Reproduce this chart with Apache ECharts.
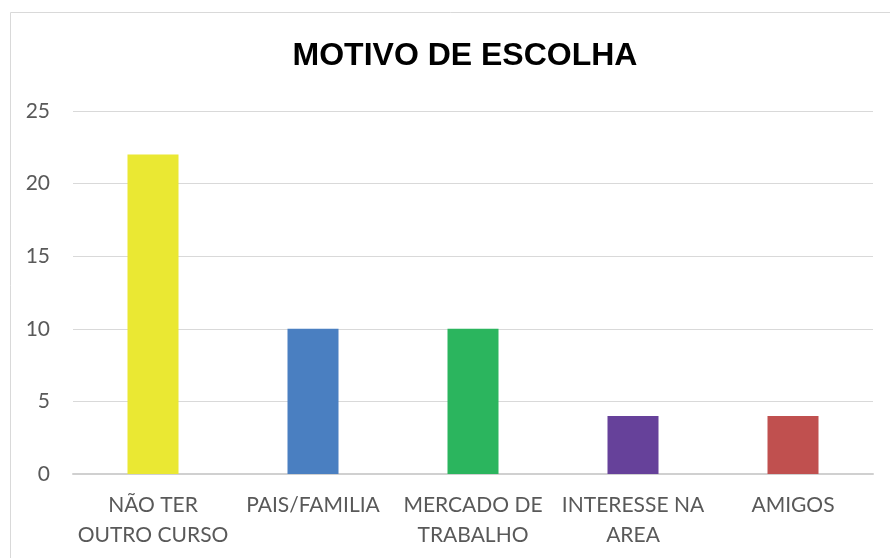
<!DOCTYPE html>
<html>
<head>
<meta charset="utf-8">
<script src="https://cdn.jsdelivr.net/npm/echarts@6/dist/echarts.min.js"></script>
<style>
html,body{margin:0;padding:0;background:#fff;}
#chart{width:890px;height:558px;}
</style>
</head>
<body>
<div id="chart"></div>
<script>
// dados do grafico
var categorias = ['NÃO TER\nOUTRO CURSO', 'PAIS/FAMILIA', 'MERCADO DE\nTRABALHO', 'INTERESSE NA\nAREA', 'AMIGOS'];
var valores = [22, 10, 10, 4, 4];
var cores = ['#EAE833', '#4A7FC1', '#2BB55E', '#66419A', '#C0504F'];
var ticksY = [0, 5, 10, 15, 20, 25];

var chart = echarts.init(document.getElementById('chart'));

var dados = valores.map(function(v, i) {
	return { value: v, itemStyle: { color: cores[i] } };
});

chart.setOption({
	animation: false,
	title: {
		text: 'MOTIVO DE ESCOLHA',
		left: 460,
		top: 35,
		textAlign: 'center',
		textStyle: { fontFamily: 'Liberation Sans', fontWeight: 'bold', fontSize: 32, color: '#000' }
	},
	graphic: [{
		type: 'rect',
		shape: { x: 10.5, y: 12.5, width: 1000, height: 1000 },
		style: { fill: 'none', stroke: '#D9D9D9', lineWidth: 1 }
	}],
	grid: { left: 73, right: 17, top: 111, bottom: 84 },
	xAxis: {
		type: 'category',
		data: categorias,
		axisTick: { show: false },
		axisLine: { lineStyle: { color: '#D0D0D0', width: 2 } },
		axisLabel: {
			color: '#595959',
			fontFamily: 'Lato',
			fontSize: 21,
			lineHeight: 30,
			margin: 16,
			interval: 0
		}
	},
	yAxis: {
		type: 'value',
		min: 0,
		max: 25,
		interval: 5,
		axisLine: { show: false },
		axisTick: { show: false },
		splitLine: { lineStyle: { color: '#D9D9D9', width: 1 } },
		axisLabel: {
			color: '#595959',
			fontFamily: 'Lato',
			fontSize: 21,
			margin: 23,
			formatter: function(v) { return ticksY.indexOf(v) >= 0 ? String(v) : ''; }
		}
	},
	series: [{
		type: 'bar',
		data: dados,
		barWidth: 51
	}]
});
</script>
</body>
</html>
